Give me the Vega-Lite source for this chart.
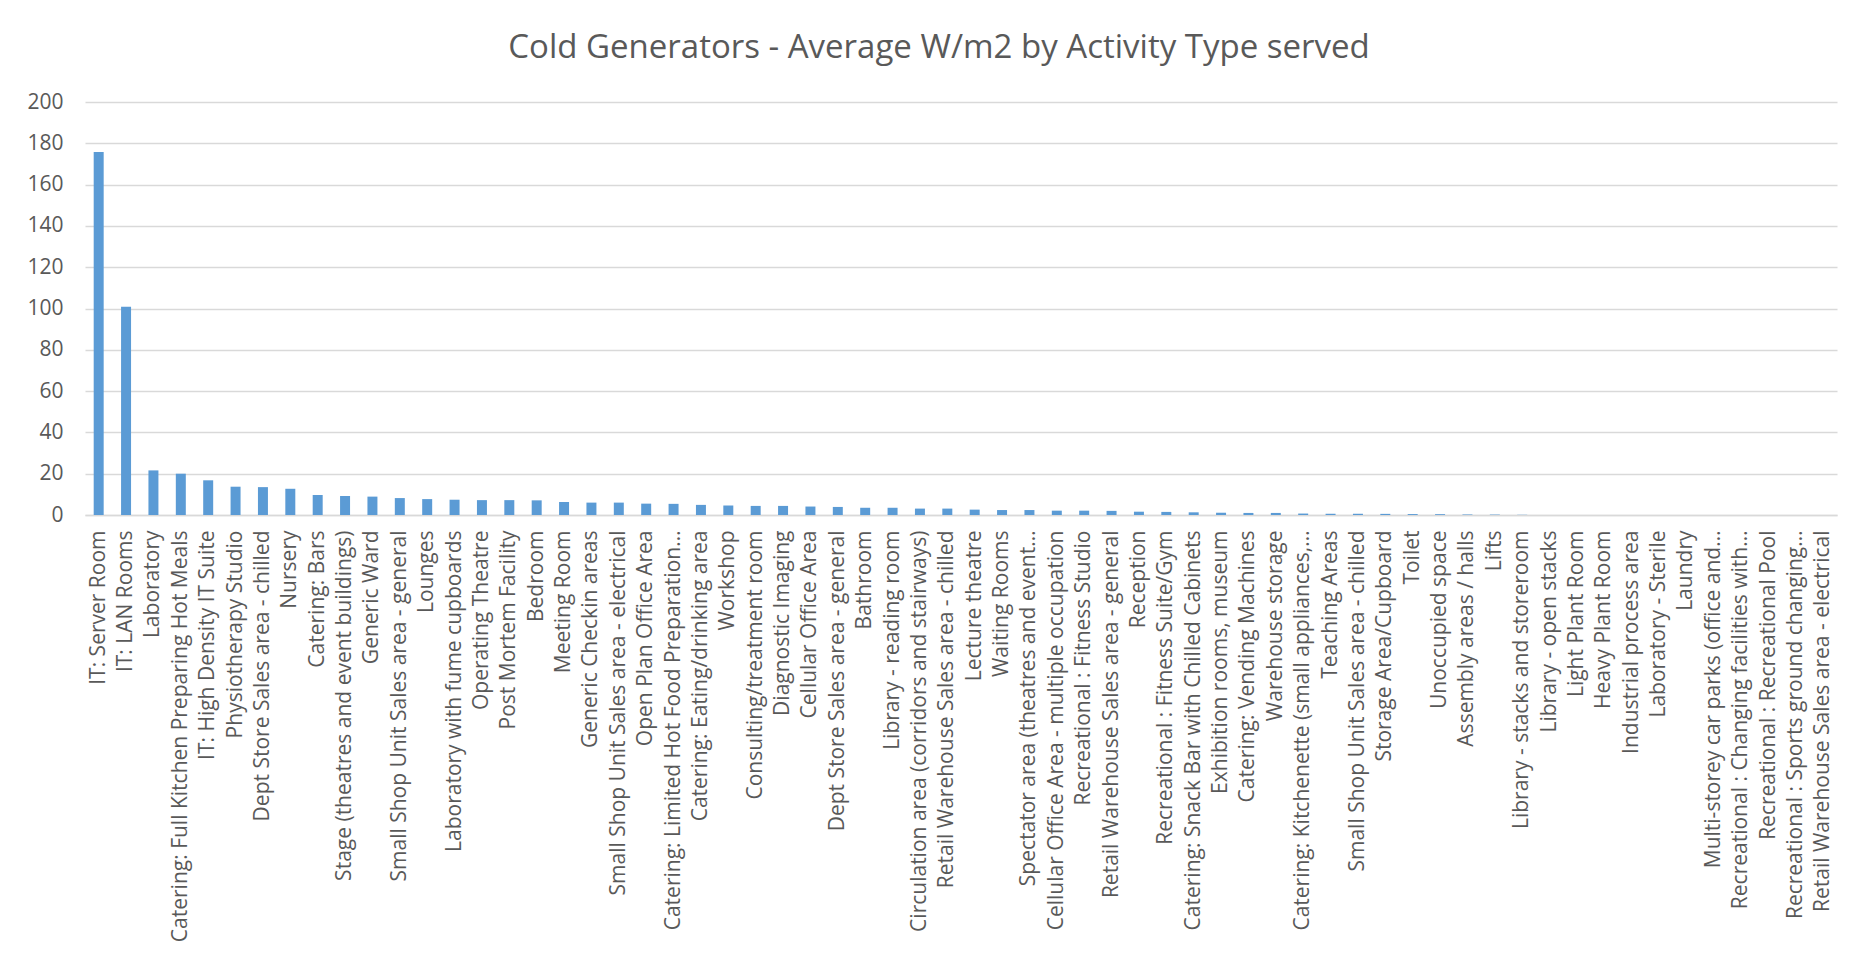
{
  "$schema": "https://vega.github.io/schema/vega-lite/v6.json",
  "autosize": "none",
  "width": 1752,
  "height": 413,
  "padding": {"left": 85, "top": 102, "right": 31, "bottom": 442},
  "background": "white",
  "title": {
    "text": "Cold Generators - Average W/m2 by Activity Type served",
    "font": "Open Sans",
    "fontSize": 33,
    "fontWeight": "normal",
    "color": "#595959",
    "anchor": "middle",
    "dx": -22,
    "dy": 44,
    "baseline": "alphabetic",
    "offset": 44
  },
  "data": {
    "values": [
      {"activity": "IT: Server Room", "w_m2": 175.8},
      {"activity": "IT: LAN Rooms", "w_m2": 100.8},
      {"activity": "Laboratory", "w_m2": 21.6},
      {"activity": "Catering: Full Kitchen Preparing Hot Meals", "w_m2": 20.0},
      {"activity": "IT: High Density IT Suite", "w_m2": 16.8},
      {"activity": "Physiotherapy Studio", "w_m2": 13.7},
      {"activity": "Dept Store Sales area - chilled", "w_m2": 13.5},
      {"activity": "Nursery", "w_m2": 12.7},
      {"activity": "Catering: Bars", "w_m2": 9.7},
      {"activity": "Stage (theatres and event buildings)", "w_m2": 9.2},
      {"activity": "Generic Ward", "w_m2": 8.9},
      {"activity": "Small Shop Unit Sales area - general", "w_m2": 8.2},
      {"activity": "Lounges", "w_m2": 7.7},
      {"activity": "Laboratory with fume cupboards", "w_m2": 7.4},
      {"activity": "Operating Theatre", "w_m2": 7.2},
      {"activity": "Post Mortem Facility", "w_m2": 7.2},
      {"activity": "Bedroom", "w_m2": 7.1},
      {"activity": "Meeting Room", "w_m2": 6.3},
      {"activity": "Generic Checkin areas", "w_m2": 6.0},
      {"activity": "Small Shop Unit Sales area - electrical", "w_m2": 6.0},
      {"activity": "Open Plan Office Area", "w_m2": 5.5},
      {"activity": "Catering: Limited Hot Food Preparation…", "w_m2": 5.4},
      {"activity": "Catering: Eating/drinking area", "w_m2": 4.9},
      {"activity": "Workshop", "w_m2": 4.6},
      {"activity": "Consulting/treatment room", "w_m2": 4.4},
      {"activity": "Diagnostic Imaging", "w_m2": 4.4},
      {"activity": "Cellular Office Area", "w_m2": 4.1},
      {"activity": "Dept Store Sales area - general", "w_m2": 3.9},
      {"activity": "Bathroom", "w_m2": 3.5},
      {"activity": "Library - reading room", "w_m2": 3.5},
      {"activity": "Circulation area (corridors and stairways)", "w_m2": 3.1},
      {"activity": "Retail Warehouse Sales area - chilled", "w_m2": 3.1},
      {"activity": "Lecture theatre", "w_m2": 2.6},
      {"activity": "Waiting Rooms", "w_m2": 2.4},
      {"activity": "Spectator area (theatres and event…", "w_m2": 2.4},
      {"activity": "Cellular Office Area - multiple occupation", "w_m2": 2.1},
      {"activity": "Recreational : Fitness Studio", "w_m2": 2.1},
      {"activity": "Retail Warehouse Sales area - general", "w_m2": 2.0},
      {"activity": "Reception", "w_m2": 1.6},
      {"activity": "Recreational : Fitness Suite/Gym", "w_m2": 1.5},
      {"activity": "Catering: Snack Bar with Chilled Cabinets", "w_m2": 1.3},
      {"activity": "Exhibition rooms, museum", "w_m2": 1.1},
      {"activity": "Catering: Vending Machines", "w_m2": 1.0},
      {"activity": "Warehouse storage", "w_m2": 1.0},
      {"activity": "Catering: Kitchenette (small appliances,…", "w_m2": 0.7},
      {"activity": "Teaching Areas", "w_m2": 0.6},
      {"activity": "Small Shop Unit Sales area - chilled", "w_m2": 0.6},
      {"activity": "Storage Area/Cupboard", "w_m2": 0.55},
      {"activity": "Toilet", "w_m2": 0.45},
      {"activity": "Unoccupied space", "w_m2": 0.4},
      {"activity": "Assembly areas / halls", "w_m2": 0.25},
      {"activity": "Lifts", "w_m2": 0.2},
      {"activity": "Library - stacks and storeroom", "w_m2": 0.1},
      {"activity": "Library - open stacks", "w_m2": 0},
      {"activity": "Light Plant Room", "w_m2": 0},
      {"activity": "Heavy Plant Room", "w_m2": 0},
      {"activity": "Industrial process area", "w_m2": 0},
      {"activity": "Laboratory - Sterile", "w_m2": 0},
      {"activity": "Laundry", "w_m2": 0},
      {"activity": "Multi-storey car parks (office and…", "w_m2": 0},
      {"activity": "Recreational : Changing facilities with…", "w_m2": 0},
      {"activity": "Recreational : Recreational Pool", "w_m2": 0},
      {"activity": "Recreational : Sports ground changing…", "w_m2": 0},
      {"activity": "Retail Warehouse Sales area - electrical", "w_m2": 0}
    ]
  },
  "mark": {"type": "bar", "color": "#5B9BD5"},
  "encoding": {
    "x": {
      "field": "activity",
      "type": "nominal",
      "sort": null,
      "scale": {"paddingInner": 0.635, "paddingOuter": 0.3175},
      "axis": {
        "title": null,
        "labelAngle": -90,
        "labelFont": "Open Sans",
        "labelFontSize": 21,
        "labelColor": "#595959",
        "labelLimit": 1000,
        "labelPadding": 15,
        "ticks": false,
        "domainColor": "#D9D9D9",
        "domainWidth": 1.5,
        "grid": false
      }
    },
    "y": {
      "field": "w_m2",
      "type": "quantitative",
      "scale": {"domain": [0, 200], "nice": false},
      "axis": {
        "title": null,
        "values": [0, 20, 40, 60, 80, 100, 120, 140, 160, 180, 200],
        "labelFont": "Open Sans",
        "labelFontSize": 21,
        "labelColor": "#595959",
        "labelPadding": 22,
        "ticks": false,
        "domain": false,
        "gridColor": "#D9D9D9",
        "gridWidth": 1.5
      }
    }
  },
  "config": {"view": {"stroke": null}}
}
